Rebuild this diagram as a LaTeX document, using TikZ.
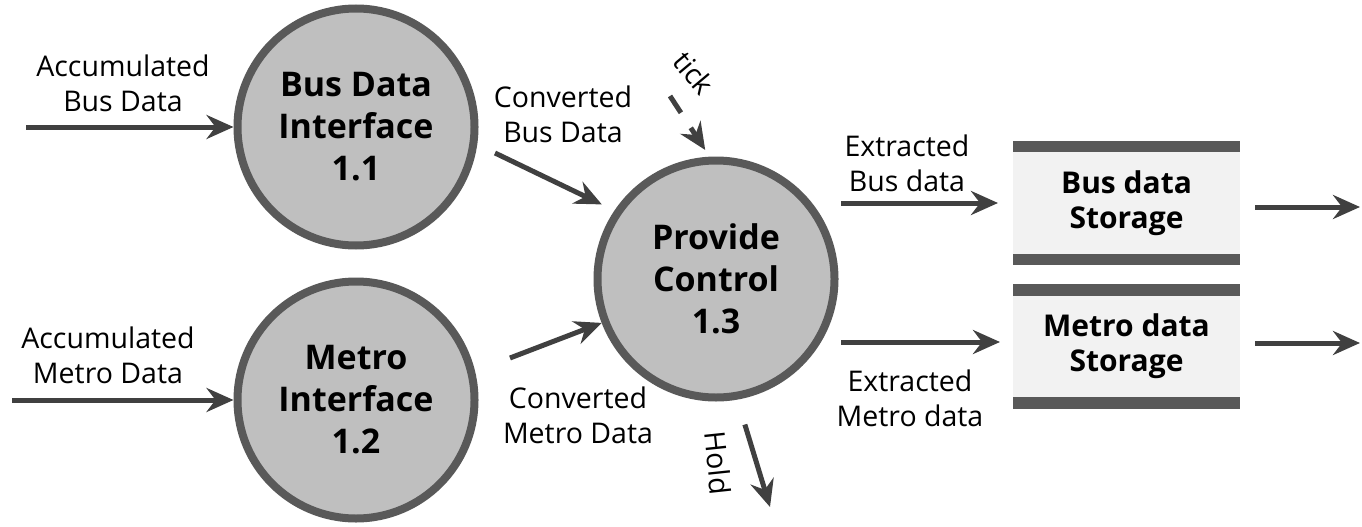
\documentclass[tikz,border=0pt]{standalone}
\usepackage{fontspec}
\setmainfont{Open Sans}
\usetikzlibrary{arrows.meta}

\begin{document}
\begin{tikzpicture}[x=1pt, y=-1pt,
    process/.style={circle, draw=procline, fill=procfill, line width=8pt,
        minimum size=237pt, inner sep=0pt, align=center,
        font=\fontsize{34}{42}\selectfont\bfseries},
    store/.style={rectangle, fill=storefill, minimum width=227pt,
        minimum height=113pt, inner sep=0pt, outer sep=0pt, align=center,
        font=\fontsize{30}{35}\selectfont\bfseries},
    storebar/.style={draw=procline, line width=11.5pt},
    flow/.style={draw=flowline, line width=5pt,
        -{Stealth[length=27pt, width=24pt, inset=9pt]}},
    lbl/.style={align=center, font=\fontsize{28.5}{35}\selectfont}]
    \definecolor{procline}{HTML}{595959}
    \definecolor{procfill}{HTML}{BFBFBF}
    \definecolor{storefill}{HTML}{F2F2F2}
    \definecolor{flowline}{HTML}{404040}
    \useasboundingbox (0,0) rectangle (1362,527);

    % Processes
    \node[process] (bdi) at (356,127) {Bus Data\\Interface\\1.1};
    \node[process] (mi) at (356,400) {Metro\\Interface\\1.2};
    \node[process] (pc) at (716,279) {Provide\\Control\\1.3};

    % Stores
    \node[store] (bstore) at (1126.5,202.75) {Bus data\\Storage};
    \draw[storebar] (bstore.north west) -- (bstore.north east);
    \draw[storebar] (bstore.south west) -- (bstore.south east);
    \node[store] (mstore) at (1126.5,346.5) {Metro data\\Storage};
    \draw[storebar] (mstore.north west) -- (mstore.north east);
    \draw[storebar] (mstore.south west) -- (mstore.south east);

    % Inputs
    \coordinate (accbusin) at (26,127);
    \coordinate (accmetroin) at (12,400);
    \draw[flow] (accbusin) -- (bdi.west);
    \draw[flow] (accmetroin) -- (mi.west);
    \node[lbl] (accbus) at (123,83) {Accumulated\\Bus Data};
    \node[lbl] (accmetro) at (108,355) {Accumulated\\Metro Data};

    % Converted data
    \coordinate (convbusin) at (495,153);
    \coordinate (convmetroin) at (510,358);
    \draw[flow, shorten >=14pt] (convbusin) -- (pc.146);
    \draw[flow] (convmetroin) -- (pc.201);
    \node[lbl] (convbus) at (563,114) {Converted\\Bus Data};
    \node[lbl] (convmetro) at (578,415) {Converted\\Metro Data};

    % Control flows
    \coordinate (tickin) at (670,96);
    \draw[flow, dash pattern=on 20pt off 18pt, shorten >=8pt] (tickin) -- (pc.93);
    \node[lbl, rotate=-50] (tick) at (694,73) {tick};
    \coordinate (holdout) at (770,507);
    \draw[flow, shorten <=26pt] (pc.-80) -- (holdout);
    \node[lbl, rotate=-84] (hold) at (718,463) {Hold};

    % Extracted data
    \coordinate (extbusin) at (841,203);
    \coordinate (extmetroin) at (841,342);
    \draw[flow, shorten >=15pt] (extbusin) -- (extbusin -| bstore.west);
    \draw[flow, shorten >=13pt] (extmetroin) -- (extmetroin -| mstore.west);
    \node[lbl] (extbus) at (907,163) {Extracted\\Bus data};
    \node[lbl] (extmetro) at (910,398) {Extracted\\Metro data};

    % Outputs
    \coordinate (busout) at (1360,207);
    \coordinate (metroout) at (1360,343);
    \draw[flow, shorten <=15pt] (busout -| bstore.east) -- (busout);
    \draw[flow, shorten <=15pt] (metroout -| mstore.east) -- (metroout);
\end{tikzpicture}
\end{document}
